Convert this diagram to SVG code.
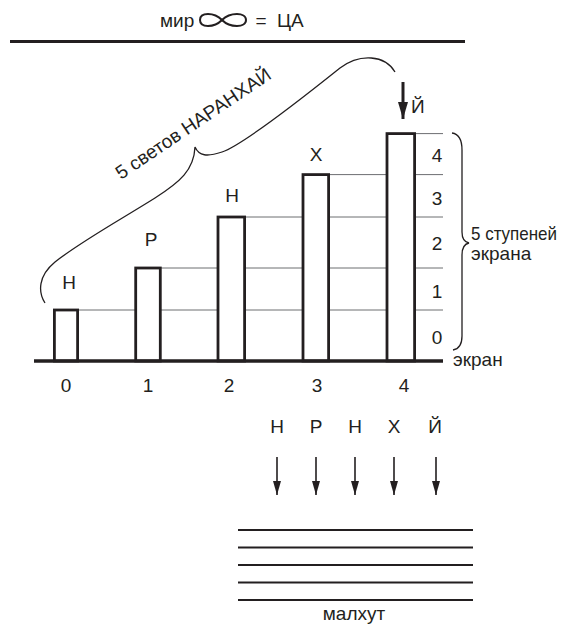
<svg xmlns="http://www.w3.org/2000/svg" width="562" height="626" viewBox="0 0 562 626">
<style>
text{font-family:"Liberation Sans",Arial,sans-serif;font-size:19px;fill:#231f20}
.bar{fill:#fff;stroke:#231f20;stroke-width:2.8}
.grid{stroke:#6d6e71;stroke-width:1;fill:none}
.thick{stroke:#231f20;fill:none}
.brace{stroke:#231f20;stroke-width:1.3;fill:none}
.arr{stroke:#231f20;stroke-width:1.6;fill:none;marker-end:url(#ah)}
.mid{text-anchor:middle}
</style>
<defs>
<marker id="ah" viewBox="0 0 14 8" refX="14" refY="4" markerWidth="14" markerHeight="8" markerUnits="userSpaceOnUse" orient="auto"><path d="M0,0 L14,4 L0,8 z" fill="#231f20"/></marker>
<marker id="ahbig" viewBox="0 0 17 10" refX="17" refY="5" markerWidth="17" markerHeight="10" markerUnits="userSpaceOnUse" orient="auto"><path d="M0,0 L17,5 L0,10 z" fill="#231f20"/></marker>
</defs>

<g id="title">
<text x="160" y="27">мир</text>
<path d="M222,20 C214,12 200,12 200,20 C200,28 214,28 222,20 C230,12 246,12 246,20 C246,28 230,28 222,20 Z" class="thick" stroke-width="2"/>
<text x="261" y="27" class="mid">=</text>
<text x="277" y="27">ЦА</text>
<line x1="10" y1="41.5" x2="465" y2="41.5" class="thick" stroke-width="3"/>
</g>

<g id="grid">
<line class="grid" x1="78" y1="310" x2="443" y2="310"/>
<line class="grid" x1="161" y1="268" x2="443" y2="268"/>
<line class="grid" x1="245" y1="217" x2="443" y2="217"/>
<line class="grid" x1="329" y1="174.6" x2="443" y2="174.6"/>
<line class="grid" x1="415" y1="133.6" x2="443" y2="133.6"/>
</g>

<g id="bar0"><rect class="bar" x="54.4" y="310" width="23.2" height="51"/><text x="69" y="289" class="mid">Н</text><text x="66" y="392" class="mid">0</text></g>
<g id="bar1"><rect class="bar" x="135.7" y="268" width="24.6" height="93"/><text x="151" y="246" class="mid">Р</text><text x="148" y="392" class="mid">1</text></g>
<g id="bar2"><rect class="bar" x="218" y="217" width="26.6" height="144"/><text x="232" y="202" class="mid">Н</text><text x="229" y="392" class="mid">2</text></g>
<g id="bar3"><rect class="bar" x="303" y="174.6" width="25.6" height="186.4"/><text x="316" y="161" class="mid">Х</text><text x="317" y="392" class="mid">3</text></g>
<g id="bar4"><rect class="bar" x="387" y="133.6" width="27.6" height="227.4"/><text x="404" y="392" class="mid">4</text></g>

<g id="screen">
<line x1="34" y1="361" x2="443" y2="361" class="thick" stroke-width="3.5"/>
<text x="453" y="366" font-size="18">экран</text>
</g>

<g id="levels">
<text x="437" y="162" class="mid">4</text>
<text x="437" y="205" class="mid">3</text>
<text x="437" y="250" class="mid">2</text>
<text x="437" y="298" class="mid">1</text>
<text x="437" y="344" class="mid">0</text>
</g>

<g id="levels-brace">
<path class="brace" d="M452,133 C459,134 462,139 462,150 L462,232 C462,239 464,242 469,243 C464,244 462,248 462,255 L462,336 C462,345 459,349 453,350"/>
<text x="471" y="240" font-size="17" textLength="86" lengthAdjust="spacingAndGlyphs">5 ступеней</text>
<text x="471" y="260" font-size="17">экрана</text>
</g>

<g id="lights-brace">
<path class="brace" d="M45,303 C38,292 38,276 55,262 C80,242 120,220 155,198 C180,182 194,170 195,147 C199,156 207,157 222,152 C240,146 290,108 340,68 C360,53 385,55 395,72"/>
<text transform="translate(121,180) rotate(-34)">5 светов НАРАНХАЙ</text>
</g>

<g id="yod-arrow">
<line x1="403" y1="82" x2="403" y2="119" class="thick" stroke-width="3" marker-end="url(#ahbig)"/>
<text x="411" y="113">Й</text>
</g>

<g id="letters">
<text x="277" y="433" class="mid">Н</text>
<text x="316" y="433" class="mid">Р</text>
<text x="355" y="433" class="mid">Н</text>
<text x="394" y="433" class="mid">Х</text>
<text x="435" y="433" class="mid">Й</text>
</g>

<g id="connectors">
<line class="arr" x1="277" y1="457" x2="277" y2="495"/>
<line class="arr" x1="316" y1="457" x2="316" y2="495"/>
<line class="arr" x1="355" y1="457" x2="355" y2="495"/>
<line class="arr" x1="394" y1="457" x2="394" y2="495"/>
<line class="arr" x1="436" y1="457" x2="436" y2="495"/>
</g>

<g id="malkhut">
<line x1="238" y1="530" x2="473" y2="530" class="thick" stroke-width="2"/>
<line x1="238" y1="547.5" x2="473" y2="547.5" class="thick" stroke-width="2"/>
<line x1="238" y1="565" x2="473" y2="565" class="thick" stroke-width="2"/>
<line x1="238" y1="582.5" x2="473" y2="582.5" class="thick" stroke-width="2"/>
<line x1="238" y1="600" x2="473" y2="600" class="thick" stroke-width="2"/>
<text x="354" y="620" class="mid">малхут</text>
</g>
</svg>
